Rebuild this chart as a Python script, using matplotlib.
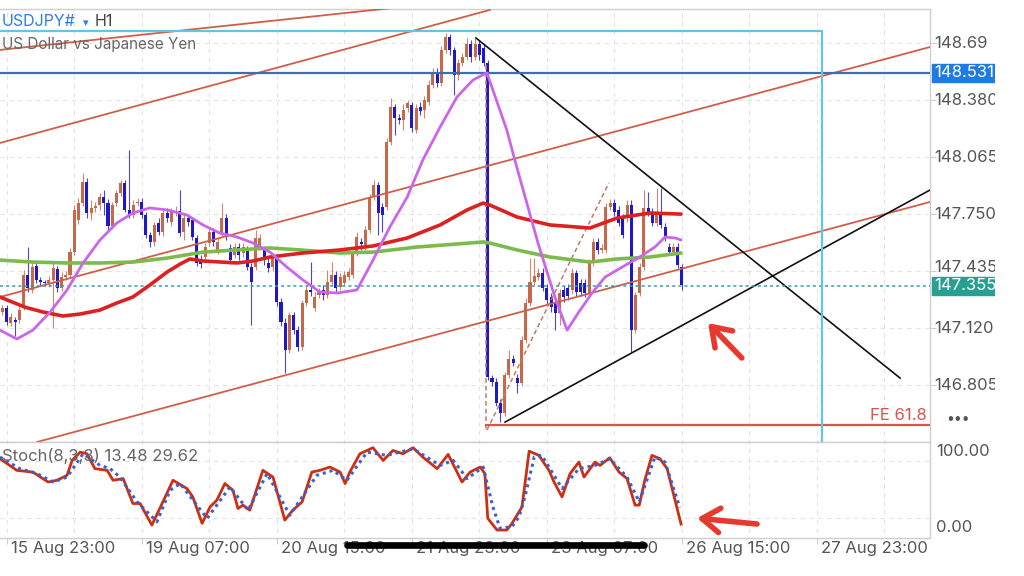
import numpy as np
import matplotlib
matplotlib.use("Agg")
import matplotlib.pyplot as plt
import matplotlib.transforms as mtrans
from matplotlib.lines import Line2D
from matplotlib.patches import Rectangle

plt.rcParams['font.family'] = ['Inter', 'DejaVu Sans']

# H1 candles, bar 0 = the bar left of "15 Aug 23:00"
opens = [147.209, 147.231, 147.148, 147.165, 147.165, 147.237, 147.413, 147.331, 147.463, 147.386,
         147.375, 147.369, 147.386, 147.447, 147.342, 147.402, 147.413, 147.540, 147.717, 147.811,
         147.927, 147.756, 147.784, 147.800, 147.844, 147.811, 147.684, 147.811, 147.867, 147.922,
         147.773, 147.745, 147.811, 147.817, 147.745, 147.634, 147.596, 147.701, 147.651, 147.756,
         147.706, 147.761, 147.767, 147.651, 147.728, 147.717, 147.618, 147.496, 147.513, 147.590,
         147.651, 147.552, 147.645, 147.728, 147.563, 147.524, 147.568, 147.535, 147.552, 147.458,
         147.458, 147.568, 147.552, 147.480, 147.458, 147.513, 147.264, 147.148, 146.999, 147.192,
         147.109, 147.015, 147.259, 147.331, 147.231, 147.303, 147.331, 147.303, 147.375, 147.413,
         147.347, 147.369, 147.402, 147.413, 147.535, 147.596, 147.568, 147.662, 147.844, 147.911,
         147.789, 147.789, 148.148, 148.342, 148.281, 148.270, 148.336, 148.353, 148.215, 148.342,
         148.325, 148.369, 148.463, 148.535, 148.474, 148.657, 148.729, 148.657, 148.519, 148.585,
         148.618, 148.690, 148.618, 148.690, 148.668, 148.585, 146.844, 146.822, 146.706, 146.651,
         146.861, 146.949, 146.844, 146.817, 147.054, 147.259, 147.375, 147.402, 147.424, 147.342,
         147.292, 147.264, 147.203, 147.331, 147.342, 147.331, 147.424, 147.369, 147.369, 147.314,
         147.480, 147.596, 147.552, 147.552, 147.789, 147.811, 147.773, 147.728, 147.728, 147.800,
         147.109, 147.314, 147.458, 147.784, 147.761, 147.701, 147.761, 147.679, 147.568, 147.540,
         147.568, 147.458]
highs = [147.248, 147.248, 147.203, 147.181, 147.237, 147.441, 147.568, 147.485, 147.485, 147.402,
         147.386, 147.408, 147.485, 147.463, 147.430, 147.436, 147.563, 147.800, 147.839, 147.977,
         147.949, 147.828, 147.817, 147.867, 147.883, 147.833, 147.817, 147.883, 147.938, 147.938,
         148.104, 147.828, 147.839, 147.839, 147.761, 147.651, 147.706, 147.728, 147.784, 147.784,
         147.784, 147.795, 147.883, 147.750, 147.745, 147.734, 147.634, 147.524, 147.590, 147.673,
         147.673, 147.618, 147.811, 147.750, 147.585, 147.590, 147.590, 147.590, 147.574, 147.480,
         147.662, 147.640, 147.574, 147.507, 147.535, 147.529, 147.286, 147.176, 147.209, 147.209,
         147.132, 147.275, 147.358, 147.485, 147.319, 147.342, 147.358, 147.441, 147.485, 147.436,
         147.424, 147.436, 147.452, 147.552, 147.651, 147.618, 147.684, 147.861, 147.938, 147.927,
         147.811, 148.170, 148.392, 148.358, 148.303, 148.358, 148.380, 148.369, 148.358, 148.369,
         148.403, 148.491, 148.557, 148.557, 148.679, 148.751, 148.745, 148.673, 148.607, 148.640,
         148.723, 148.712, 148.723, 148.712, 148.690, 148.601, 146.861, 146.844, 146.728, 146.877,
         146.999, 146.971, 146.866, 147.076, 147.286, 147.507, 147.507, 147.452, 147.452, 147.364,
         147.314, 147.286, 147.336, 147.353, 147.364, 147.452, 147.441, 147.391, 147.391, 147.502,
         147.618, 147.618, 147.585, 147.811, 147.833, 147.833, 147.795, 147.750, 147.828, 147.828,
         147.319, 147.480, 147.883, 147.872, 147.784, 147.894, 147.894, 147.701, 147.590, 147.590,
         147.590, 147.474]
lows = [147.192, 147.137, 147.132, 147.076, 147.148, 147.220, 147.319, 147.314, 147.369, 147.358,
        147.353, 147.347, 147.120, 147.319, 147.325, 147.386, 147.397, 147.524, 147.695, 147.795,
        147.728, 147.717, 147.761, 147.773, 147.745, 147.662, 147.668, 147.795, 147.850, 147.761,
        147.728, 147.728, 147.795, 147.728, 147.618, 147.568, 147.574, 147.634, 147.629, 147.706,
        147.684, 147.739, 147.629, 147.607, 147.684, 147.607, 147.463, 147.452, 147.485, 147.574,
        147.574, 147.529, 147.629, 147.607, 147.474, 147.507, 147.496, 147.513, 147.441, 147.137,
        147.441, 147.552, 147.469, 147.430, 147.436, 147.242, 147.132, 146.872, 146.982, 147.087,
        146.993, 146.999, 147.242, 147.297, 147.214, 147.286, 147.275, 147.286, 147.358, 147.319,
        147.331, 147.353, 147.386, 147.397, 147.518, 147.552, 147.552, 147.645, 147.828, 147.634,
        147.651, 147.773, 148.132, 148.187, 148.248, 148.215, 148.314, 148.204, 148.198, 148.298,
        148.281, 148.353, 148.447, 148.452, 148.458, 148.640, 148.629, 148.408, 148.491, 148.568,
        148.601, 148.590, 148.601, 148.601, 148.568, 146.833, 146.800, 146.689, 146.601, 146.634,
        146.844, 146.910, 146.761, 146.800, 147.038, 147.242, 147.358, 147.386, 147.325, 147.253,
        147.209, 147.109, 147.137, 147.264, 147.275, 147.308, 147.297, 147.297, 147.292, 147.297,
        147.463, 147.529, 147.535, 147.535, 147.773, 147.739, 147.684, 147.618, 147.706, 146.988,
        147.093, 147.297, 147.441, 147.739, 147.684, 147.684, 147.673, 147.601, 147.524, 147.524,
        147.452, 147.331]
closes = [147.231, 147.154, 147.181, 147.154, 147.220, 147.413, 147.342, 147.458, 147.386, 147.375,
          147.369, 147.386, 147.452, 147.342, 147.402, 147.413, 147.540, 147.773, 147.811, 147.927,
          147.756, 147.784, 147.789, 147.844, 147.811, 147.684, 147.800, 147.867, 147.922, 147.773,
          147.745, 147.800, 147.817, 147.745, 147.634, 147.596, 147.690, 147.651, 147.756, 147.728,
          147.761, 147.767, 147.645, 147.728, 147.706, 147.623, 147.480, 147.474, 147.568, 147.651,
          147.596, 147.596, 147.728, 147.623, 147.496, 147.568, 147.524, 147.568, 147.458, 147.375,
          147.618, 147.618, 147.496, 147.452, 147.513, 147.264, 147.154, 146.999, 147.192, 147.109,
          147.015, 147.259, 147.331, 147.319, 147.292, 147.319, 147.303, 147.375, 147.413, 147.342,
          147.402, 147.413, 147.430, 147.535, 147.623, 147.585, 147.662, 147.844, 147.911, 147.756,
          147.745, 148.148, 148.342, 148.281, 148.270, 148.325, 148.364, 148.226, 148.336, 148.320,
          148.380, 148.463, 148.535, 148.474, 148.657, 148.729, 148.657, 148.519, 148.585, 148.618,
          148.690, 148.618, 148.690, 148.629, 148.585, 146.850, 146.822, 146.706, 146.651, 146.861,
          146.949, 146.927, 146.817, 147.054, 147.259, 147.375, 147.408, 147.424, 147.342, 147.275,
          147.237, 147.203, 147.314, 147.292, 147.297, 147.424, 147.319, 147.319, 147.314, 147.480,
          147.596, 147.552, 147.563, 147.789, 147.811, 147.761, 147.701, 147.634, 147.800, 147.109,
          147.303, 147.458, 147.784, 147.761, 147.701, 147.756, 147.690, 147.618, 147.540, 147.568,
          147.469, 147.358]

# moving averages (bar position, price)
ma_fast_idx = [-0.6, 3.4, 7.2, 11.3, 15.3, 19.1, 23.1, 27.1, 30.9, 34.9, 39.0, 43.7, 47.5, 51.5, 55.6,
               59.4, 63.4, 67.4, 71.2, 75.2, 79.3, 84.0, 87.8, 91.8, 95.9, 99.6, 103.7, 107.7, 111.5,
               114.8, 116.2, 119.5, 121.4, 126.9, 130.9, 133.8, 136.4, 139.7, 142.8, 146.8, 150.6,
               154.6, 157.0, 159.4, 160.8]
ma_fast = [147.109, 147.060, 147.109, 147.209, 147.331, 147.480, 147.607, 147.701, 147.756, 147.784,
           147.773, 147.745, 147.690, 147.645, 147.623, 147.590, 147.540, 147.457, 147.386, 147.320,
           147.314, 147.331, 147.496, 147.679, 147.844, 148.049, 148.231, 148.397, 148.491, 148.530,
           148.436, 148.215, 148.049, 147.590, 147.292, 147.109, 147.203, 147.314, 147.402, 147.457,
           147.507, 147.568, 147.623, 147.618, 147.607]
ma_mid_idx = [-0.6, 5.3, 9.6, 14.3, 18.4, 23.1, 27.1, 30.9, 34.9, 39.0, 42.1, 44.4, 47.5, 55.6, 59.4,
              63.4, 71.2, 80.0, 87.8, 95.9, 103.7, 110.1, 113.9, 115.5, 121.9, 129.7, 139.2, 145.6,
              153.4, 160.8]
ma_mid = [147.292, 147.236, 147.209, 147.187, 147.198, 147.220, 147.259, 147.292, 147.358, 147.430,
          147.474, 147.502, 147.491, 147.480, 147.491, 147.513, 147.535, 147.552, 147.574, 147.618,
          147.690, 147.773, 147.811, 147.800, 147.734, 147.690, 147.673, 147.728, 147.756, 147.750]
ma_slow_idx = [-0.6, 7.2, 15.3, 23.1, 30.9, 39.0, 47.5, 55.6, 63.4, 70.5, 80.0, 87.8, 98.2, 113.9,
               115.5, 121.9, 129.7, 139.2, 145.6, 153.4, 160.8]
ma_slow = [147.496, 147.485, 147.480, 147.480, 147.485, 147.507, 147.540, 147.552, 147.563, 147.552,
           147.535, 147.540, 147.568, 147.596, 147.590, 147.552, 147.513, 147.485, 147.502, 147.513,
           147.535]

# Stoch(8,3,3)
stoch_k_idx = [-0.6, 3.4, 7.2, 10.8, 12.9, 15.3, 16.5, 18.4, 20.0, 21.9, 24.8, 26.2, 28.6, 30.9, 32.6,
               35.4, 38.0, 40.4, 43.7, 45.1, 47.3, 49.2, 50.8, 52.7, 54.6, 55.8, 57.0, 58.6, 61.7,
               64.1, 66.9, 68.8, 71.0, 73.3, 75.2, 77.6, 80.0, 81.2, 82.3, 84.7, 87.8, 90.2, 92.5,
               94.9, 97.3, 99.6, 103.0, 105.6, 108.9, 110.8, 113.2, 114.3, 115.0, 117.2, 119.5,
               120.7, 123.1, 124.8, 127.1, 129.5, 130.7, 132.6, 134.5, 136.6, 137.8, 140.4, 141.6,
               143.9, 146.1, 148.0, 149.9, 150.9, 152.2, 153.9, 155.8, 157.5, 160.8]
stoch_k = [82.5, 70.3, 68.5, 58.1, 59.9, 65.1, 80.7, 89.4, 87.7, 72.1, 70.3, 59.9, 61.7, 35.6, 35.6,
           13.0, 37.3, 59.9, 51.3, 42.5, 14.8, 32.1, 39.1, 56.5, 49.5, 30.4, 33.9, 28.6, 70.3, 63.3,
           18.2, 28.6, 37.3, 68.5, 70.3, 73.8, 68.5, 56.5, 68.5, 87.7, 94.0, 80.7, 91.1, 87.7, 94.0,
           84.2, 72.1, 87.0, 58.1, 68.5, 73.8, 66.9, 20.0, 7.8, 7.8, 14.5, 32.0, 90.4, 86.0, 70.3,
           58.1, 42.5, 66.9, 79.0, 63.3, 79.0, 75.5, 83.5, 68.5, 61.7, 33.9, 33.9, 59.9, 86.0, 82.5,
           72.1, 14.0]
stoch_d_idx = [-0.6, 4.1, 8.2, 12.0, 15.3, 19.1, 23.1, 25.5, 27.8, 31.9, 36.6, 39.7, 42.1, 48.5, 53.9,
               58.2, 62.7, 68.1, 74.5, 78.3, 81.6, 86.4, 91.1, 97.3, 103.7, 106.8, 110.1, 113.9,
               116.2, 117.9, 120.7, 122.4, 123.8, 126.0, 127.8, 132.6, 136.6, 140.4, 143.9, 148.0,
               150.9, 154.6, 157.0, 160.5]
stoch_d = [84.2, 72.1, 66.9, 58.1, 63.3, 87.7, 75.5, 72.1, 63.3, 37.3, 16.5, 49.5, 56.5, 20.0, 52.9,
           28.6, 66.9, 23.4, 65.1, 70.3, 59.9, 89.4, 86.0, 92.9, 75.5, 80.7, 61.7, 73.8, 32.1, 9.6,
           11.3, 21.7, 42.5, 84.2, 86.0, 51.3, 72.1, 75.5, 82.5, 63.3, 37.3, 84.2, 79.0, 31.4]

tick_pos = [1, 33, 65, 97, 129, 161, 193]
tick_labels = ["15 Aug 23:00", "19 Aug 07:00", "20 Aug 15:00", "21 Aug 23:00",
               "23 Aug 07:00", "26 Aug 15:00", "27 Aug 23:00"]
price_ticks = [148.695, 148.380, 148.065, 147.750, 147.435, 147.120, 146.805]
price_tick_labels = ["148.69", "148.380", "148.065", "147.750", "147.435", "147.120", "146.805"]
last_price = 147.355
blue_level = 148.531
fe_level = 146.584

# drawing objects (bar position, price)
channel_a = ([-0.59, 92.5], [148.657, 148.889])
channel_b = ([-0.59, 115.5], [148.143, 148.878])
channel_c = ([-0.59, 219.79], [147.292, 148.673])
channel_d = ([8.18, 219.79], [146.491, 147.817])
tri_down = ([112.2, 212.7], [148.723, 146.844])
tri_up = ([119.1, 219.79], [146.601, 147.883])
fibo_leg1 = ([114.6, 114.6], [148.574, 146.557])
fibo_leg2 = ([114.8, 143.7], [146.557, 147.922])
box_top = 148.762
box_right = 194.2

W, H = 1024, 576
BULL = '#c6694a'
BEAR = '#1f18c8'
GRID = '#e4e4e4'
FRAME = '#cfcfcf'
LABEL = '#555555'


def fx(px):
    return px / W


def fy(py):
    return 1 - py / H


x_lo, x_hi = -0.59, 219.79
p_lo, p_hi = 146.491, 148.883

fig = plt.figure(figsize=(W / 100, H / 100), dpi=100)
ax = fig.add_axes([0, fy(442), fx(930), fy(9) - fy(442)])
st = fig.add_axes([0, fy(537.5), fx(930), fy(442) - fy(537.5)], sharex=ax)

for a in (ax, st):
    a.set_xlim(x_lo, x_hi)
    a.spines['left'].set_visible(False)
    for s in ('top', 'right', 'bottom'):
        a.spines[s].set_color(FRAME)
        a.spines[s].set_linewidth(1.0)
ax.set_ylim(p_lo, p_hi)
st.set_ylim(0, 100)

ax.yaxis.tick_right()
ax.set_yticks(price_ticks)
ax.set_yticklabels([])
ax.tick_params(axis='y', length=4, color=FRAME)
ax.tick_params(axis='x', length=0, labelbottom=False)
st.set_yticks([])
st.set_xticks(tick_pos)
st.set_xticklabels([])
st.tick_params(axis='x', length=4, color=FRAME)

grid_x = np.arange(1, 220, 16)
for a in (ax, st):
    a.vlines(grid_x, -1e3, 1e3, colors=GRID, lw=0.8, linestyles=(0, (4, 4)), zorder=0)
ax.hlines(price_ticks, x_lo, x_hi, colors=GRID, lw=0.8, linestyles=(0, (4, 4)), zorder=0)
st.hlines([20, 80], x_lo, x_hi, colors=GRID, lw=0.8, linestyles=(0, (4, 4)), zorder=0)

# candles
o = np.array(opens)
c = np.array(closes)
idx = np.arange(len(c))
col = np.where(c >= o, BULL, BEAR)
ax.vlines(idx, lows, highs, colors=col, lw=0.8, alpha=0.8, zorder=3)
ax.bar(idx, np.maximum(np.abs(c - o), 0.008), bottom=np.minimum(o, c), width=0.72,
       color=col, linewidth=0, zorder=4)

# drawing objects
for xs, ys in (channel_a, channel_b, channel_c, channel_d):
    ax.plot(xs, ys, color='#cf5f48', lw=1.3, zorder=6)
ax.plot(*tri_down, color='#111111', lw=1.2, zorder=6)
ax.plot(*tri_up, color='#111111', lw=1.2, zorder=6)
ax.plot(*fibo_leg1, color='#c27a62', lw=1.1, ls=(0, (3, 2)), zorder=6)
ax.plot(*fibo_leg2, color='#c27a62', lw=1.1, ls=(0, (3, 2)), zorder=6)
ax.hlines(fe_level, 114.4, x_hi, colors='#d9534f', lw=1.6, zorder=6)
ax.axhline(blue_level, color='#3a6fb5', lw=1.6, zorder=6)
ax.axhline(last_price, color='#3d9ca8', lw=1.1, ls=(0, (2, 2)), zorder=6)
ax.plot([x_lo - 5, box_right, box_right], [box_top, box_top, p_lo - 1],
        color='#62c6e0', lw=1.6, zorder=6)

# moving averages
ax.plot(ma_slow_idx, ma_slow, color='#7cba4c', lw=2.6, zorder=7, solid_capstyle='round')
ax.plot(ma_mid_idx, ma_mid, color='#dd2020', lw=2.6, zorder=7, solid_capstyle='round')
ax.plot(ma_fast_idx, ma_fast, color='#cc66e8', lw=2.0, zorder=8, solid_capstyle='round')

ax.text(0.997, fe_level + 0.012, "FE 61.8",
        transform=mtrans.blended_transform_factory(ax.transAxes, ax.transData),
        ha='right', va='bottom', fontsize=12, color='#d9534f', zorder=9)

arrow = dict(arrowstyle="->,head_length=0.8,head_width=0.55", lw=4, color='#e8392e',
             shrinkA=0, shrinkB=0, mutation_scale=16, capstyle='round', joinstyle='round')
ax.annotate("", xy=(167.2, 147.148), xytext=(175.2, 146.955), arrowprops=arrow, zorder=10)

# stochastic
st.plot(stoch_k_idx, stoch_k, color='#cc3010', lw=2.0, zorder=3)
st.plot(stoch_d_idx, stoch_d, color='#3a5fd0', lw=2.2, ls=(0, (1, 1.3)), zorder=4)
st.annotate("", xy=(164.6, 20.3), xytext=(178.8, 14.1), arrowprops=arrow, zorder=10)

# price scale labels, clipped at the screen edge of the price scale
lab = fig.add_axes([fx(930), fy(442), fx(995) - fx(930), fy(9) - fy(442)])
lab.set_xlim(0, 1)
lab.set_ylim(p_lo, p_hi)
lab.axis('off')
nudge = mtrans.ScaledTranslation(0, 4 / 100, fig.dpi_scale_trans)
for p, t in zip(price_ticks, price_tick_labels):
    tr = lab.transData + nudge if abs(p - last_price) < 0.1 else lab.transData
    lab.text(0.07, p, t, transform=tr, va='center', ha='left', fontsize=12, color=LABEL,
             clip_on=True)
for p, face in ((blue_level, '#1e7be0'), (last_price, '#27a091')):
    lab.add_patch(Rectangle((0.03, p - 0.05), 0.97, 0.1, color=face, zorder=5, clip_on=True))
    lab.text(0.07, p, f"{p:.3f}", va='center', ha='left', fontsize=12, color='white',
             zorder=6, clip_on=True)

fig.text(fx(936), fy(452), "100.00", va='center', ha='left', fontsize=12, color=LABEL)
fig.text(fx(936), fy(527), "0.00", va='center', ha='left', fontsize=12, color=LABEL)
fig.text(fx(958), fy(419), "•••", va='center', ha='center', fontsize=10, color=LABEL)

xlab = mtrans.blended_transform_factory(st.transData, fig.transFigure)
for pos, t in zip(tick_pos, tick_labels):
    st.text(pos + 0.95, fy(549), t, transform=xlab, va='center', ha='left', fontsize=12,
            color=LABEL, clip_on=False)

# headers
fig.text(fx(2), fy(22), "USDJPY#", va='center', ha='left', fontsize=11.5, color='#2b7de9')
fig.text(fx(83), fy(23), "▾", va='center', ha='left', fontsize=8, color='#2b7de9')
fig.text(fx(95), fy(22), "H1", va='center', ha='left', fontsize=11.5, color='#444444')
fig.text(fx(2), fy(44), "US Dollar vs Japanese Yen", va='center', ha='left', fontsize=11,
         color='#666666')
fig.text(fx(2), fy(456), "Stoch(8,3,3) 13.48 29.62", va='center', ha='left', fontsize=12,
         color='#666666')

# home indicator bar from the phone screenshot
fig.add_artist(Line2D([fx(347), fx(644)], [fy(545), fy(545)], transform=fig.transFigure,
                      color='black', lw=4.8, solid_capstyle='round', zorder=20))

fig.savefig("out.png", dpi=100, facecolor='white')
